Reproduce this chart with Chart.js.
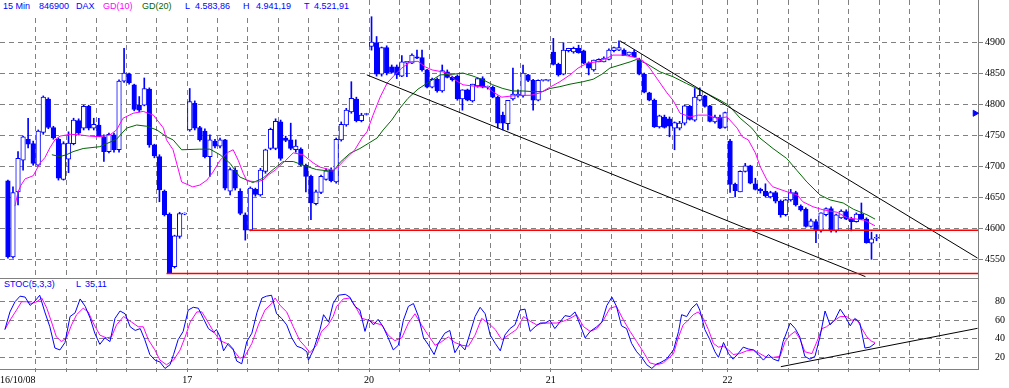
<!DOCTYPE html>
<html>
<head>
<meta charset="utf-8">
<script src="https://cdn.jsdelivr.net/npm/chart.js@4.4.0/dist/chart.umd.min.js"></script>
<style>
  body { margin: 0; background: #fff; }
  #wrap { position: relative; width: 1009px; height: 388px; overflow: hidden; background: #fff; }
  #top { position: absolute; left: 0; top: 0; width: 1009px; height: 278px; }
  #bot { position: absolute; left: 0; top: 278px; width: 1009px; height: 110px; }
  .strip { position: absolute; background: #fff; }
  .lbl { position: absolute; font: 9px "Liberation Sans", Arial, sans-serif; line-height: 1; white-space: nowrap; color: #0000ff; }
</style>
</head>
<body>
<div id="wrap">
  <div id="top"><canvas id="priceChart"></canvas></div>
  <div id="bot"><canvas id="stocChart"></canvas></div>
  <div class="strip" style="left:0;top:0;width:357px;height:14px"></div>
  <div class="strip" style="left:0;top:279px;width:112px;height:10px"></div>
  <div class="lbl" style="left:3px;top:2px">15 Min</div>
  <div class="lbl" style="left:39px;top:2px">846900</div>
  <div class="lbl" style="left:76px;top:2px">DAX</div>
  <div class="lbl" style="left:103px;top:2px;color:#ff00ff">GD(10)</div>
  <div class="lbl" style="left:142px;top:2px;color:#006600">GD(20)</div>
  <div class="lbl" style="left:185px;top:2px">L</div>
  <div class="lbl" style="left:195px;top:2px">4.583,86</div>
  <div class="lbl" style="left:243px;top:2px">H</div>
  <div class="lbl" style="left:256px;top:2px">4.941,19</div>
  <div class="lbl" style="left:304px;top:2px">T</div>
  <div class="lbl" style="left:314px;top:2px">4.521,91</div>
  <div class="lbl" style="left:4px;top:280px">STOC(5,3,3)</div>
  <div class="lbl" style="left:76px;top:280px">L</div>
  <div class="lbl" style="left:85px;top:280px">35,11</div>
</div>

<script>
"use strict"

// 15 minute candles, index 0 = first bar of 16/10/08
let open = [4677,4554,4659,4710,4744,4737,4702,4755,4809,4763,4744,4679,4712,4737,4774,4762,4797,4762,4767,4748,
  4724,4751,4727,4838,4849,4832,4799,4799,4825,4735,4716,4660,4623,4538,4587,4623,
  4759,4802,4763,4757,4716,4741,4733,4743,4660,4694,4660,4622,4597,4663,4654,4692,4729,4729,4772,4746,
  4743,4727,4728,4702,4684,4640,4658,4679,4694,4675,4743,4767,4788,4809,4774,4784,
  4894,4900,4849,4892,4861,4861,4846,4867,4867,4877,4876,4856,4828,4841,4822,4853,4844,4846,4809,4824,
  4806,4830,4842,4828,4828,4812,4783,4769,4809,4814,4814,4848,4839,4807,4839,4839,
  4885,4865,4849,4887,4885,4891,4887,4867,4856,4869,4869,4873,4887,4888,4888,4880,4885,4872,4849,4819,
  4807,4764,4780,4777,4762,4762,4770,4797,4775,4807,4814,4798,4772,4780,4763,
  4741,4671,4659,4692,4701,4672,4663,4660,4651,4658,4644,4622,4646,4658,4636,4631,4603,4611,4596,4622,
  4632,4596,4617,4627,4615,4611,4623,4615,4576,4584];
let high = [4678,4667,4724,4749,4778,4741,4759,4814,4811,4765,4746,4740,4756,4778,4777,4799,4799,4778,4778,4751,
  4754,4754,4840,4891,4851,4833,4813,4843,4827,4736,4719,4662,4625,4589,4626,4625,
  4826,4806,4765,4761,4751,4744,4746,4744,4698,4698,4664,4625,4667,4665,4697,4728,4762,4777,4775,4749,
  4770,4743,4730,4704,4686,4662,4686,4696,4698,4746,4772,4794,4837,4812,4786,4786,
  4942,4910,4893,4895,4864,4864,4879,4870,4882,4888,4888,4857,4843,4843,4864,4856,4846,4848,4824,4825,
  4833,4843,4845,4830,4830,4814,4788,4807,4859,4824,4864,4849,4841,4840,4840,4840,
  4907,4867,4900,4891,4893,4896,4888,4869,4872,4874,4877,4890,4893,4903,4890,4885,4888,4875,4851,4820,
  4809,4783,4783,4780,4772,4773,4799,4799,4826,4827,4815,4799,4783,4783,4788,
  4744,4673,4693,4705,4702,4681,4665,4672,4660,4660,4646,4647,4663,4660,4638,4633,4615,4614,4625,4633,
  4635,4623,4630,4630,4618,4625,4641,4617,4594,4590];
let low = [4552,4552,4638,4694,4730,4702,4701,4752,4761,4744,4678,4678,4690,4735,4751,4759,4759,4759,4748,4708,
  4722,4723,4723,4836,4833,4790,4788,4798,4731,4714,4643,4620,4527,4536,4584,4622,
  4757,4759,4741,4714,4684,4730,4730,4662,4654,4662,4622,4581,4596,4652,4652,4689,4727,4727,4710,4740,
  4727,4723,4701,4659,4614,4638,4656,4678,4675,4673,4741,4765,4786,4772,4772,4783,
  4888,4846,4846,4848,4851,4842,4845,4845,4866,4874,4854,4827,4827,4820,4820,4843,4838,4807,4791,4806,
  4804,4828,4827,4825,4811,4762,4759,4759,4807,4812,4812,4837,4791,4806,4838,4838,
  4864,4846,4848,4885,4883,4883,4866,4848,4854,4869,4869,4872,4885,4887,4879,4879,4877,4848,4819,4806,
  4763,4762,4762,4748,4727,4759,4767,4775,4773,4806,4796,4772,4770,4761,4762,
  4658,4651,4659,4691,4672,4662,4657,4651,4649,4641,4618,4620,4644,4636,4628,4602,4602,4577,4594,4620,
  4594,4594,4616,4614,4596,4610,4614,4576,4550,4580];
let close = [4554,4658,4713,4748,4736,4705,4757,4812,4763,4746,4681,4737,4738,4775,4754,4797,4762,4768,4748,4724,
  4752,4727,4838,4851,4835,4792,4791,4826,4735,4717,4662,4622,4528,4588,4624,4623,
  4805,4762,4743,4716,4743,4733,4743,4665,4695,4665,4624,4597,4665,4655,4694,4727,4760,4773,4713,4742,
  4729,4733,4702,4684,4641,4659,4684,4693,4677,4744,4768,4791,4810,4774,4783,4784,
  4901,4849,4892,4851,4852,4848,4869,4870,4880,4875,4856,4828,4841,4822,4855,4844,4840,4809,4824,4807,
  4833,4842,4828,4828,4812,4770,4770,4807,4817,4817,4851,4839,4807,4839,4839,4839,
  4865,4848,4888,4891,4891,4884,4867,4859,4872,4873,4875,4888,4892,4892,4879,4885,4877,4849,4820,4807,
  4764,4782,4763,4765,4771,4770,4798,4776,4812,4815,4797,4773,4780,4762,4787,
  4671,4661,4692,4701,4673,4663,4661,4653,4658,4644,4622,4646,4658,4638,4630,4603,4612,4597,4625,4632,
  4596,4622,4628,4615,4611,4623,4615,4577,4583,4584];

// moving averages, [bar, price]
let gd10 = [[1.4,4636],[2.0,4659],[2.6,4670],[3.4,4680],[5.0,4685],[6.4,4706],[7.3,4714],[8.3,4730],[9.3,4743],
  [10.3,4749],[12.3,4752],[14.3,4751],[16.2,4749],[18.2,4748],[20.2,4751],[21.5,4759],[22.8,4778],[24.8,4786],
  [26.8,4789],[28.8,4783],[30.8,4762],[31.4,4743],[32.7,4727],[34.4,4675],[36.6,4667],[38,4670],[39.4,4678],
  [40.6,4691],[42,4710],[43.6,4723],[44.6,4727],[45.6,4710],[46.6,4689],[47.3,4677],[49.3,4675],[50.5,4678],
  [51.5,4686],[52.9,4694],[54.9,4709],[56.5,4722],[58.4,4719],[60.4,4706],[61.8,4699],[63.2,4696],[64.4,4694],
  [65.2,4698],[66.7,4711],[68.7,4727],[70.1,4746],[71.1,4756],[72.3,4783],[73.7,4812],[75.1,4835],[76.6,4848],
  [78,4859],[79.6,4869],[81.2,4870],[82.6,4861],[84,4856],[86,4853],[87.5,4849],[88.5,4840],[90.1,4832],
  [92.1,4830],[94.9,4828],[96.1,4820],[97.8,4812],[99.8,4814],[101.8,4815],[103.4,4815],[105.4,4819],
  [107.3,4828],[109.3,4837],[111.3,4848],[112.9,4859],[114.7,4867],[116.6,4869],[118.6,4875],[119.8,4880],
  [121.8,4880],[123.8,4877],[125.6,4872],[127.1,4859],[128.7,4840],[130.5,4819],[131.7,4807],[133.1,4786],
  [135.1,4780],[136.7,4783],[138.4,4783],[140.4,4778],[142.4,4780],[144.4,4762],[145.4,4748],[146.6,4743],
  [148,4722],[149,4699],[150.3,4678],[151.5,4667],[154.3,4659],[156.3,4654],[157.4,4643],[159.4,4635],
  [161.4,4630],[164.2,4626],[166.2,4617],[168.1,4615],[169.7,4613],[171.7,4604]];
let gd20 = [[8.7,4719],[10.3,4716],[11.6,4719],[12.9,4724],[14.9,4729],[18.2,4732],[21.5,4744],[23.5,4762],
  [25.5,4767],[27.5,4765],[29.5,4759],[31.4,4748],[32.7,4743],[34.4,4727],[38,4728],[40,4728],[42,4719],
  [44,4705],[45.9,4683],[48.5,4674],[50.5,4681],[52.5,4695],[54.5,4708],[56.5,4708],[59.2,4700],[61.1,4695],
  [64.4,4692],[65.8,4707],[67.7,4721],[69.7,4729],[71.3,4737],[73.1,4746],[74.3,4759],[76,4775],[77.6,4794],
  [79.2,4810],[81.2,4825],[82.9,4834],[85.6,4848],[88.1,4849],[90.1,4851],[92.1,4846],[94.1,4840],[96,4832],
  [98,4826],[100,4822],[102,4822],[103.9,4821],[105.9,4821],[107.3,4826],[109.3,4829],[111.3,4833],
  [113.9,4837],[115.9,4841],[117.6,4849],[119.2,4859],[121.2,4864],[123.2,4869],[124.5,4873],[126.5,4866],
  [129.1,4853],[131.7,4845],[134.4,4834],[136.4,4826],[138.4,4818],[141,4807],[142.7,4799],[145,4778],
  [147.3,4762],[148.9,4746],[151.5,4729],[154.2,4713],[156.2,4694],[158.2,4675],[160.8,4654],[162.8,4646],
  [165.4,4641],[167.4,4631],[170.1,4622],[171.7,4615]];

// stochastic %K and %D, [bar, value]
let stocK = [[-0.6,50],[0.4,69],[1.4,80],[2.4,86],[3.4,85],[4.4,76],[5.4,81],[6.3,87],[7.3,69],[8.3,53],[9.3,30],
  [10.3,28],[11.3,36],[12.3,64],[13.3,68],[14.3,83],[15.3,75],[16.3,62],[17.2,46],[18.2,34],[19.2,41],[20.2,37],
  [21.2,62],[22.2,70],[23.2,67],[24.2,53],[25.2,49],[26.2,51],[27.1,39],[28.1,23],[29.1,17],[30.1,15],[31.1,8],
  [32.1,12],[32.8,23],[33.7,39],[34.7,48],[35.7,71],[36.7,74],[37.7,73],[38.7,62],[39.7,51],[40.7,47],[41.3,50],
  [42,42],[42.7,27],[43.6,35],[44.6,29],[45.3,16],[46.3,13],[47.3,37],[48.3,46],[49.3,68],[50.3,84],[51.2,86],
  [52.2,87],[53.2,67],[54.2,62],[55.2,55],[56.2,41],[57.2,32],[58.2,30],[59.2,26],[59.5,17],[60.5,28],[61.8,50],
  [62.5,66],[63.5,58],[64.4,78],[65.4,87],[66.8,88],[67.7,85],[68.7,75],[69.7,71],[70.7,48],[71.4,61],[72.4,55],
  [73.3,61],[74.3,53],[75.3,41],[76.3,28],[77.3,33],[78.3,60],[79.3,75],[80.3,78],[81.3,64],[82.3,41],[83.2,34],
  [84.4,23],[85.2,35],[86.5,46],[87.5,49],[88.5,25],[89.5,34],[90.5,28],[91.5,46],[92.5,64],[93.5,74],[94.5,67],
  [95.5,44],[96.5,35],[97.5,27],[98.4,44],[99.4,51],[100.4,55],[101.4,71],[102.4,72],[103.4,48],[104.4,53],
  [105.4,57],[106.4,57],[107.3,60],[108.3,51],[109.3,58],[110.3,65],[111.3,64],[112.3,69],[113.3,55],[114.3,41],
  [115.3,48],[116.6,53],[117.6,58],[118.6,76],[119.6,85],[120.5,75],[121.5,54],[122.5,51],[123.5,35],[124.5,26],
  [125.5,20],[126.5,12],[127.5,8],[128.5,13],[129.1,14],[130.4,18],[131.8,28],[132.8,48],[133.4,66],[134.4,64],
  [135.4,73],[136.4,78],[137,71],[138,50],[139,39],[140,26],[140.7,20],[141.7,36],[142.7,24],[143.6,18],
  [144.6,24],[145.6,31],[146.6,29],[147.6,28],[148.6,23],[149.6,17],[150.6,23],[151.6,18],[152.6,16],[153.5,37],
  [154.9,57],[155.9,51],[156.8,42],[157.8,21],[158.8,18],[159.8,21],[160.8,42],[161.8,70],[162.8,55],[163.8,61],
  [164.8,72],[165.8,64],[166.8,54],[167.7,62],[168.7,57],[169.7,30],[170.7,31],[171.7,35.11]];
let stocD = [[-0.6,50],[0.4,60],[1.7,71],[2.7,80],[3.7,80],[4.7,78],[5.7,80],[6.7,84],[7.7,73],[8.7,57],[9.6,42],
  [10.6,37],[11.6,41],[12.6,55],[13.6,66],[14.9,73],[15.9,69],[16.9,57],[18.2,44],[19.5,41],[20.5,42],[21.5,55],
  [22.9,64],[24.5,58],[25.8,53],[26.8,53],[27.8,39],[29.1,28],[30.1,17],[31.4,12],[32.8,17],[34.1,28],[35.1,42],
  [36.1,58],[37.4,69],[38.4,69],[39.4,60],[40.7,48],[42,38],[43.3,35],[44.6,28],[45.9,19],[46.9,21],[48.3,35],
  [49.6,55],[50.9,71],[52.2,78],[52.9,84],[53.9,76],[55.2,69],[56.5,53],[57.8,38],[58.8,32],[59.8,25],[61.1,33],
  [62.1,48],[63.4,55],[64.4,64],[65.1,75],[66.4,83],[67.7,84],[68.7,76],[70.1,62],[71.4,60],[72.7,57],[74,55],
  [75.3,44],[76.6,38],[78,41],[79.3,57],[80.6,67],[81.9,55],[83.2,44],[84.6,33],[85.9,37],[87.2,42],[88.5,36],
  [89.9,33],[91.2,32],[92.5,44],[93.8,62],[95.1,57],[96.5,50],[97.8,39],[99.1,44],[100.7,50],[102.1,64],
  [103.4,59],[104.7,55],[106,57],[107.3,57],[108.7,57],[110,59],[111.3,62],[112.6,66],[114,53],[115.3,48],
  [116.6,51],[117.9,60],[119.2,73],[120.5,75],[121.9,60],[123.2,48],[124.5,37],[125.8,26],[127.1,14],[128.5,12],
  [129.8,14],[130.4,17],[131.8,24],[132.8,42],[133.7,55],[134.7,60],[135.7,66],[136.7,69],[137.7,62],[138.7,50],
  [139.7,35],[140.7,31],[141.7,32],[142.7,28],[143.6,23],[144.9,24],[146.3,27],[147.6,28],[148.9,24],[150.2,20],
  [151.6,20],[152.9,21],[153.9,37],[154.9,44],[155.9,48],[156.9,39],[157.8,26],[159.2,24],[160.2,37],[161.2,51],
  [162.1,53],[163.5,59],[164.8,64],[166.1,64],[167.1,60],[168.1,61],[169.1,51],[170.1,42],[171.1,37],[171.7,36]];

// drawn lines on the chart, [bar, value]
let lowerChannel = [[71.07,4848],[169.8,4522]];
let upperChannel = [[121.2,4903],[192.0,4552]];
let stocSupport = [[153.05,9.9],[192.0,51.3]];
let supportHigh = { from: 47.9, price: 4597 };
let supportLow = { from: 31.4, price: 4527 };
let markerPrice = 4786;

// axes
let priceTicks = [4550,4600,4650,4700,4750,4800,4850,4900];
let stocTicks = [20,40,60,80];
let dayStarts = [-0.5,35.5,71.5,107.5,142.5];
let dayLabels = ["16/10/08","17","20","21","22"];
let gridX = [5.5,11.5,17.5,23.5,29.5,35.5,41.5,47.5,53.5,59.5,65.5,71.5,77.5,83.5,89.5,95.5,101.5,107.5,
  113.5,119.5,125.5,131.5,137.5,142.5,148.5,154.5,160.5,166.5,172.5,178.5,184.5];

const X_MIN = -1.57;
const X_MAX = 192.09;
const BLUE = "#0000ff";
const GRID = "#808080";

Chart.defaults.animation = false;
Chart.defaults.events = [];
Chart.defaults.plugins.legend.display = false;
Chart.defaults.plugins.tooltip.enabled = false;

function noPad(s) {
    s.paddingTop = 0; s.paddingBottom = 0; s.paddingLeft = 0; s.paddingRight = 0;
}

function xScale(height, tickLen) {
    return {
        type: "linear", min: X_MIN, max: X_MAX, offset: false,
        afterBuildTicks: s => { s.ticks = gridX.map(v => ({ value: v })); },
        afterFit: s => { s.height = height; noPad(s); },
        ticks: { display: false },
        grid: { color: GRID, offset: false, drawTicks: tickLen > 0, tickLength: tickLen, tickColor: GRID },
        border: { display: height > 0, color: GRID, dash: [5, 4] }
    };
}

function lineSet(data, color, order) {
    return { type: "line", data: data, borderColor: color, borderWidth: 1, pointRadius: 0, tension: 0, fill: false, order: order };
}

// candles: wick and body as floating bars
let wicks = open.map((o, i) => ({ x: i, y: [low[i], high[i]] }));
let bodies = open.map((o, i) => ({ x: i, y: [o, close[i]] }));
let bodyFill = open.map((o, i) => close[i] >= o ? "#ffffff" : BLUE);

new Chart(document.getElementById("priceChart"), {
    type: "bar",
    data: {
        datasets: [
            { data: wicks, backgroundColor: BLUE, borderWidth: 0, barThickness: 1, grouped: false, order: 9 },
            { data: bodies, backgroundColor: bodyFill, borderColor: BLUE, borderWidth: 1, borderSkipped: false,
              barThickness: 4.6, minBarLength: 1, grouped: false, order: 8 },
            lineSet(gd20, "#006600", 7),
            lineSet(gd10, "#ff00ff", 6),
            lineSet(lowerChannel, "#000000", 5),
            lineSet(upperChannel, "#000000", 4),
            Object.assign(lineSet([[supportHigh.from, supportHigh.price], [X_MAX, supportHigh.price]], "#ff0000", 3), { borderWidth: 1.5 }),
            Object.assign(lineSet([[supportLow.from, supportLow.price], [X_MAX, supportLow.price]], "#ff0000", 2), { borderWidth: 1.5 }),
            { type: "line", data: [[X_MAX - 0.6, markerPrice]], showLine: false, pointStyle: "triangle", rotation: 90,
              pointRadius: 3.5, backgroundColor: BLUE, borderColor: BLUE, borderWidth: 1, order: 1, clip: false }
        ]
    },
    options: {
        responsive: true, maintainAspectRatio: false,
        layout: { padding: 0, autoPadding: false },
        scales: {
            x: xScale(0, 0),
            y: {
                position: "right", min: 4519.8, max: 4969,
                afterBuildTicks: s => { s.ticks = priceTicks.map(v => ({ value: v })); },
                afterFit: s => { s.width = 31; noPad(s); },
                ticks: { color: "#000", padding: 2, autoSkip: false, callback: v => String(v),
                         font: { family: "'Liberation Serif', serif", size: 10 } },
                grid: { color: GRID, tickLength: 5, tickColor: GRID },
                border: { display: true, color: GRID, dash: [5, 4] }
            }
        }
    }
});

// frame line at top of the stochastic panel and day labels below it
const panelExtras = {
    id: "panelExtras",
    afterDraw(chart) {
        const { ctx, chartArea, scales } = chart;
        ctx.save();
        ctx.strokeStyle = GRID;
        ctx.lineWidth = 1;
        ctx.beginPath();
        ctx.moveTo(chartArea.left, chartArea.top + 0.5);
        ctx.lineTo(chartArea.right, chartArea.top + 0.5);
        ctx.stroke();
        ctx.font = "10px 'Liberation Serif', serif";
        ctx.fillStyle = "#000";
        ctx.textAlign = "left";
        ctx.textBaseline = "alphabetic";
        dayStarts.forEach((v, i) => {
            let px = scales.x.getPixelForValue(v);
            let w = ctx.measureText(dayLabels[i]).width;
            ctx.fillText(dayLabels[i], Math.max(0, px - w / 2), chartArea.bottom + 13.5);
        });
        ctx.restore();
    }
};

new Chart(document.getElementById("stocChart"), {
    type: "line",
    data: {
        datasets: [
            lineSet(stocD, "#ff00ff", 3),
            lineSet(stocK, BLUE, 2),
            lineSet(stocSupport, "#000000", 1)
        ]
    },
    options: {
        responsive: true, maintainAspectRatio: false,
        layout: { padding: 0, autoPadding: false },
        scales: {
            x: xScale(19, 3),
            y: {
                position: "right", min: 7.4, max: 105.6,
                afterBuildTicks: s => { s.ticks = stocTicks.map(v => ({ value: v })); },
                afterFit: s => { s.width = 31; noPad(s); },
                ticks: { color: "#000", padding: 17, autoSkip: false, callback: v => String(v),
                         font: { family: "'Liberation Serif', serif", size: 10 } },
                grid: { color: GRID, drawTicks: false },
                border: { display: true, color: GRID, dash: [5, 4] }
            }
        }
    },
    plugins: [panelExtras]
});
</script>
</body>
</html>
